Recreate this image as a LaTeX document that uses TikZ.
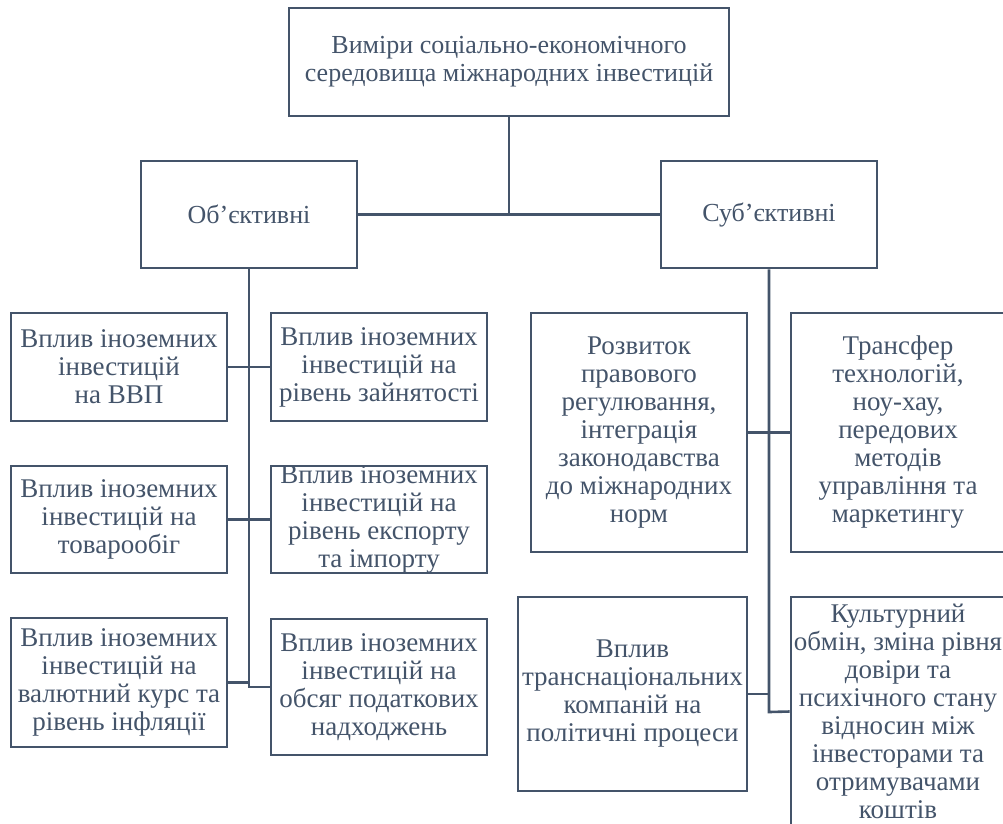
\documentclass[tikz,border=0pt]{standalone}
\usepackage{fontspec}
\setmainfont{Liberation Serif}
\definecolor{ink}{HTML}{44546A}
\begin{document}
\begin{tikzpicture}[x=1pt,y=-1pt,
  box/.style={draw=ink,line width=2.6pt,rectangle,inner sep=0pt},
  txt/.style={text=ink,align=center,inner sep=0pt,font=\fontsize{27}{28}\selectfont},
  toptxt/.style={text=ink,align=center,inner sep=0pt,font=\fontsize{26}{28}\selectfont},
  wire/.style={draw=ink,line width=2.6pt}]
\useasboundingbox (0,0) rectangle (1003,823);
\clip (0,0) rectangle (1003,823);
% boxes
\node[box,minimum width=440,minimum height=108] (top) at (509,62) {};
\node[box,minimum width=216,minimum height=107] (obj) at (249,214.5) {};
\node[box,minimum width=216,minimum height=107] (subj) at (769,214.5) {};
\node[box,minimum width=216,minimum height=108] (L1) at (119,367) {};
\node[box,minimum width=216,minimum height=108] (R1) at (379,367) {};
\node[box,minimum width=216,minimum height=107] (L2) at (119,519.5) {};
\node[box,minimum width=216,minimum height=107] (R2) at (379,519.5) {};
\node[box,minimum width=216,minimum height=129] (L3) at (119,682.5) {};
\node[box,minimum width=216,minimum height=136] (R3) at (379,687) {};
\node[box,minimum width=216,minimum height=239] (S1) at (639,432.5) {};
\node[box,minimum width=214,minimum height=239] (S2) at (898,432.5) {};
\node[box,minimum width=229,minimum height=194] (S3) at (632.5,694) {};
\node[box,minimum width=214,minimum height=229] (S4) at (898,711.5) {};
% texts
\node[toptxt] (topt) at (top) {Виміри соціально-економічного\\середовища міжнародних інвестицій};
\node[toptxt] (objt) at (obj) {Об’єктивні};
\node[toptxt] (subjt) at (subj) {Суб’єктивні};
\node[txt] (L1t) at (L1) {Вплив іноземних\\інвестицій\\на ВВП};
\node[txt] (R1t) at (R1) {Вплив іноземних\\інвестицій на\\рівень зайнятості};
\node[txt] (L2t) at (L2) {Вплив іноземних\\інвестицій на\\товарообіг};
\node[txt] (R2t) at (R2) {Вплив іноземних\\інвестицій на\\рівень експорту\\та імпорту};
\node[txt] (L3t) at (L3) {Вплив іноземних\\інвестицій на\\валютний курс та\\рівень інфляції};
\node[txt] (R3t) at (R3) {Вплив іноземних\\інвестицій на\\обсяг податкових\\надходжень};
\node[txt] (S1t) at (S1) {Розвиток\\правового\\регулювання,\\інтеграція\\законодавства\\до міжнародних\\норм};
\node[txt] (S2t) at (S2) {Трансфер\\технологій,\\ноу-хау,\\передових\\методів\\управління та\\маркетингу};
\node[txt] (S3t) at (S3) {Вплив\\транснаціональних\\компаній на\\політичні процеси};
\node[txt] (S4t) at (S4) {Культурний\\обмін, зміна рівня\\довіри та\\психічного стану\\відносин між\\інвесторами та\\отримувачами\\коштів};
% junction coordinates
\coordinate (jtop) at (509,214.5);
\coordinate (jL3) at (249,682.5);
\coordinate (jR3) at (249,687);
\coordinate (jS3) at (769,694);
\coordinate (jS4) at (769,712);
% connectors
\draw[wire] (top.south) -- (jtop);
\draw[wire] (obj.east) -- (subj.west);
\draw[wire] (obj.south) -- (jR3) -- (R3.west);
\draw[wire] (L1.east) -- (R1.west);
\draw[wire] (L2.east) -- (R2.west);
\draw[wire] (L3.east) -- (jL3);
\draw[wire] (subj.south) -- (jS4) -- (S4.west);
\draw[wire] (S1.east) -- (S2.west);
\draw[wire] (S3.east) -- (jS3);
\end{tikzpicture}
\end{document}
